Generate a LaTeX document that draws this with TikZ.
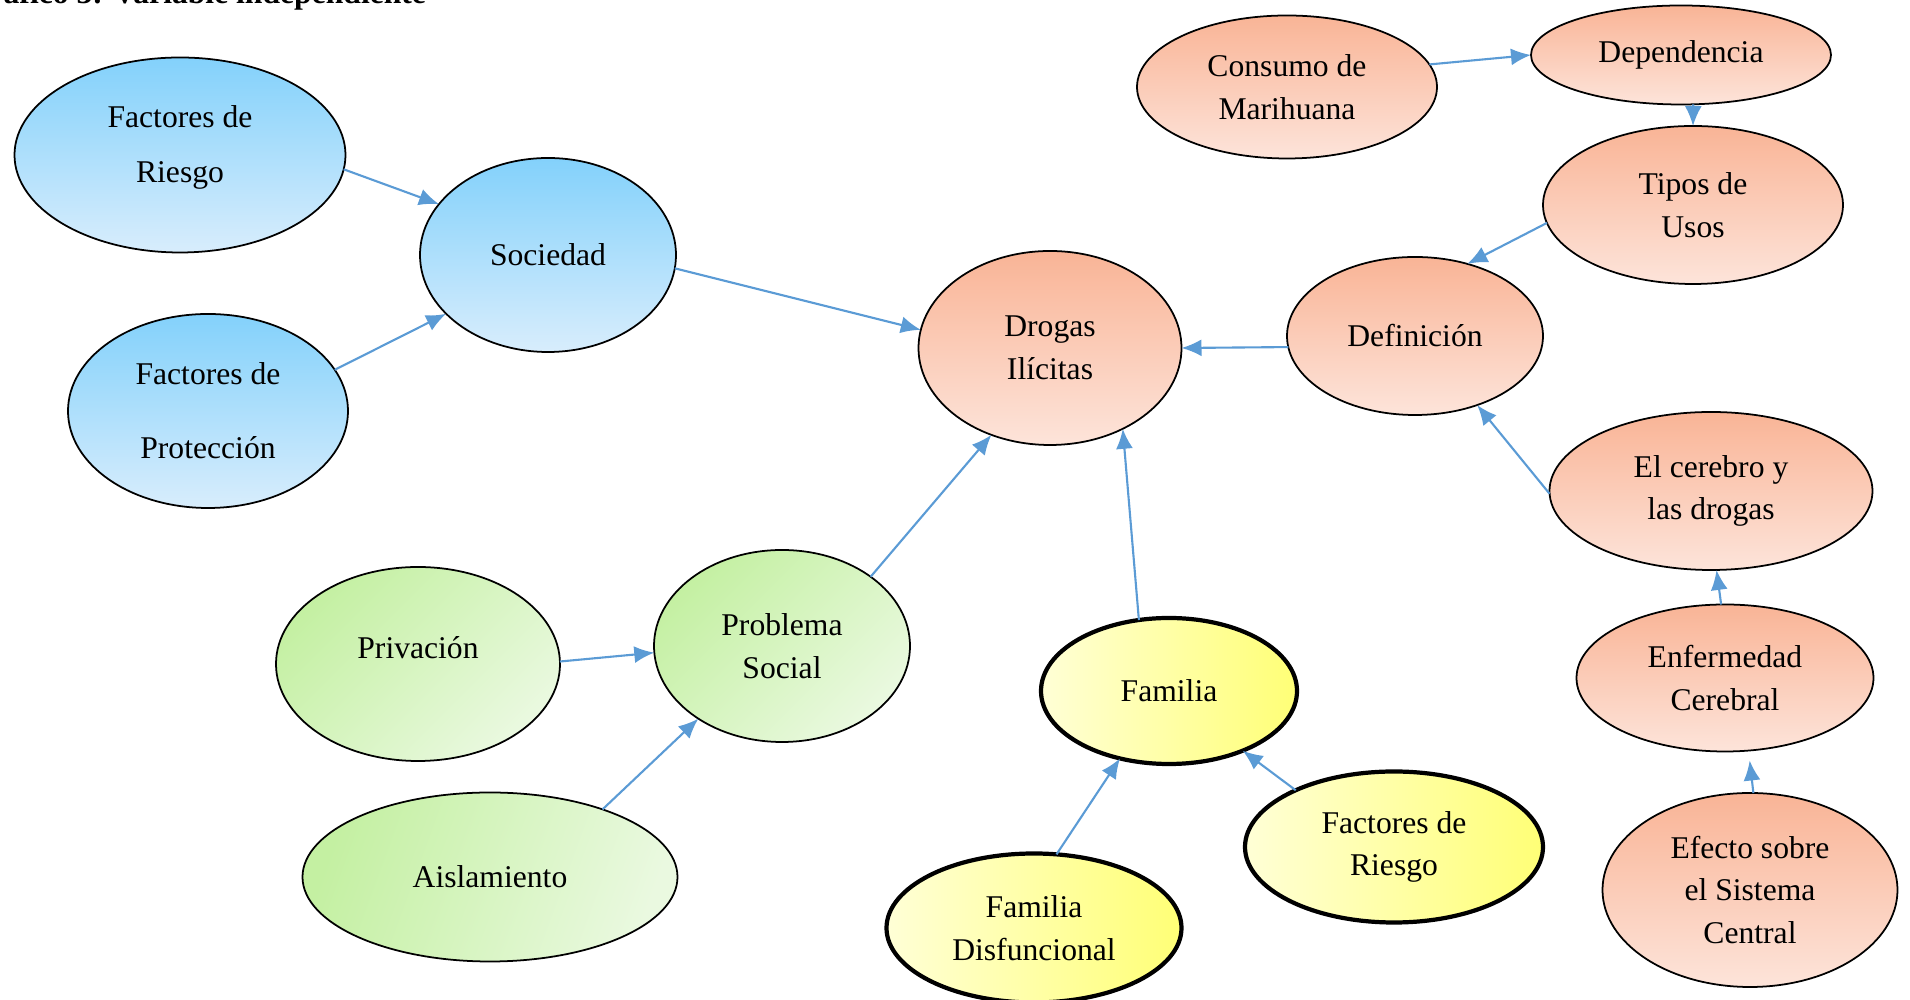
\documentclass[tikz,border=0pt]{standalone}
\usepackage{fontspec}
\setmainfont{Liberation Serif}
\usetikzlibrary{shapes.geometric,arrows.meta}
\definecolor{azulA}{RGB}{131,209,251}
\definecolor{azulB}{RGB}{216,237,252}
\definecolor{salmonA}{RGB}{249,180,150}
\definecolor{salmonB}{RGB}{253,228,218}
\definecolor{verdeA}{RGB}{196,240,162}
\definecolor{verdeB}{RGB}{234,249,224}
\definecolor{amarilloA}{RGB}{255,255,214}
\definecolor{amarilloB}{RGB}{255,255,118}
\definecolor{flechaC}{RGB}{91,155,213}
\begin{document}
\begin{tikzpicture}[inner sep=0,outer sep=0,
    font=\fontsize{9}{12.1}\selectfont,
    burbuja/.style={ellipse,draw=black,line width=0.5pt,align=center},
    azul/.style={burbuja,top color=azulA,bottom color=azulB},
    salmon/.style={burbuja,top color=salmonA,bottom color=salmonB},
    verde/.style={burbuja,left color=verdeA,right color=verdeB,shading angle=45},
    amarillo/.style={burbuja,line width=1.2pt,left color=amarilloA,right color=amarilloB},
    flecha/.style={draw=flechaC,line width=0.6pt,-{Latex[length=2mm,width=1.7mm]}}]

    \useasboundingbox (0,0) rectangle (19.1,-10);

    % Title (cut at the top of the page)
    \node[anchor=base east,font=\bfseries\fontsize{9}{11}\selectfont] (titulo) at (4.26,-0.04) {Gráfico 3: Variable independiente};

    % Society branch
    \node[azul,minimum width=3.31cm,minimum height=1.95cm] (riesgoS) at (1.80,-1.55) {Factores de\\[0.124cm]Riesgo\\[-0.2cm]\mbox{}};
    \node[azul,minimum width=2.80cm,minimum height=1.94cm] (proteccion) at (2.08,-4.11) {Factores de\\[0.317cm]Protección};
    \node[azul,minimum width=2.56cm,minimum height=1.94cm] (sociedad) at (5.48,-2.55) {Sociedad};

    % Centre
    \node[salmon,minimum width=2.63cm,minimum height=1.94cm] (drogas) at (10.50,-3.48) {Drogas\\Ilícitas};

    % Definition branch
    \node[salmon,minimum width=3.00cm,minimum height=1.43cm] (consumo) at (12.87,-0.87) {Consumo de\\Marihuana};
    \node[salmon,minimum width=3.00cm,minimum height=0.99cm] (dependencia) at (16.81,-0.55) {Dependencia};
    \node[salmon,minimum width=3.00cm,minimum height=1.58cm] (tipos) at (16.93,-2.05) {Tipos de\\Usos};
    \node[salmon,minimum width=2.56cm,minimum height=1.58cm] (definicion) at (14.15,-3.36) {Definición};
    \node[salmon,minimum width=3.23cm,minimum height=1.58cm] (cerebro) at (17.11,-4.91) {El cerebro y\\las drogas};
    \node[salmon,minimum width=2.97cm,minimum height=1.47cm] (enfermedad) at (17.25,-6.78) {Enfermedad\\Cerebral};
    \node[salmon,minimum width=2.95cm,minimum height=1.94cm] (efecto) at (17.50,-8.90) {Efecto sobre\\el Sistema\\Central};

    % Social problem branch
    \node[verde,minimum width=2.56cm,minimum height=1.92cm] (problema) at (7.82,-6.46) {Problema\\Social};
    \node[verde,minimum width=2.84cm,minimum height=1.94cm,text depth=0.32cm] (privacion) at (4.18,-6.64) {Privación};
    \node[verde,minimum width=3.75cm,minimum height=1.69cm,shading angle=70] (aislamiento) at (4.90,-8.77) {Aislamiento};

    % Family branch
    \node[amarillo,minimum width=2.56cm,minimum height=1.46cm] (familia) at (11.69,-6.91) {Familia};
    \node[amarillo,minimum width=2.95cm,minimum height=1.49cm] (disfuncional) at (10.34,-9.28) {Familia\\Disfuncional};
    \node[amarillo,minimum width=2.98cm,minimum height=1.51cm] (riesgoF) at (13.94,-8.47) {Factores de\\Riesgo};

    % Arrows
    \draw[flecha] (riesgoS.-5) -- (sociedad.155);
    \draw[flecha] (proteccion.18) -- (sociedad.210);
    \draw[flecha] (sociedad.-6) -- (drogas.172);
    \draw[flecha] (problema.38) -- (drogas.236);
    \draw[flecha] (privacion.1) -- (problema.183);
    \draw[flecha] (aislamiento.31) -- (problema.221);
    \draw[flecha] (familia.113) -- (drogas.-48);
    \draw[flecha] (disfuncional.73) -- (familia.234);
    \draw[flecha] (riesgoF.150) -- (familia.-39);
    \draw[flecha] (definicion.185) -- (drogas.0);
    \draw[flecha] (consumo.9) -- (dependencia.180);
    \draw[flecha] (dependencia.-76) -- (tipos.90);
    \draw[flecha] (tipos.187) -- (definicion.54);
    \draw[flecha] (cerebro.181) -- (definicion.-48);
    \draw[flecha] (enfermedad.93) -- (cerebro.-86);
    \draw[flecha,shorten >=1mm] (efecto.88) -- (enfermedad.-72);

\end{tikzpicture}
\end{document}
